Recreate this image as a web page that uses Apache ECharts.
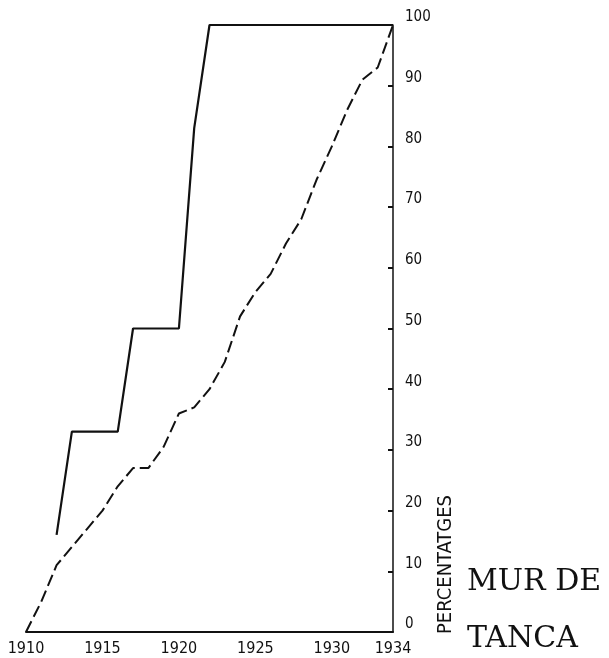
<!DOCTYPE html>
<html>
<head>
<meta charset="utf-8">
<script src="https://cdn.jsdelivr.net/npm/echarts@6/dist/echarts.min.js"></script>
<style>
	html, body { margin: 0; padding: 0; background: #fff; }
	#chart { width: 609px; height: 658px; }
</style>
</head>
<body>
<div id="chart"></div>
<script>
	// solid line (stepped)
	var solidYears = [1912, 1913, 1916, 1917, 1920, 1921, 1922, 1934];
	var solidValues = [16, 33, 33, 50, 50, 83, 100, 100];
	// dashed line
	var dashYears = [1910, 1911, 1912, 1913, 1914, 1915, 1916, 1917, 1918, 1919, 1920, 1921, 1922, 1923, 1924, 1925, 1926, 1927, 1928, 1929, 1930, 1931, 1932, 1933, 1934];
	var dashValues = [0, 5, 11, 14, 17, 20, 24, 27, 27, 30.5, 36, 37, 40, 44.5, 52, 56, 59, 64, 68, 74.5, 80, 86, 91, 93, 100];

	function pairs(xs, ys) {
		return xs.map(function(x, i) { return [x, ys[i]]; });
	}

	var chart = echarts.init(document.getElementById("chart"));
	var narrow = "'Liberation Sans Narrow', 'DejaVu Sans Condensed', sans-serif";

	chart.setOption({
		backgroundColor: "#fff",
		animation: false,
		grid: { left: 26, right: 216, top: 25, bottom: 26 },
		xAxis: {
			type: "value",
			min: 1910,
			max: 1934,
			interval: 5,
			axisLine: { lineStyle: { color: "#111", width: 2 } },
			axisTick: { show: false },
			splitLine: { show: false },
			axisLabel: {
				margin: 9,
				showMaxLabel: true,
				fontFamily: narrow,
				fontSize: 16,
				color: "#111",
				formatter: function(v) { return String(v); }
			}
		},
		yAxis: {
			type: "value",
			position: "right",
			min: 0,
			max: 100,
			interval: 10,
			axisLine: { show: true, lineStyle: { color: "#111", width: 1.5 } },
			axisTick: { show: true, inside: true, length: 5, lineStyle: { color: "#111", width: 2 } },
			splitLine: { show: false },
			axisLabel: {
				margin: 12,
				verticalAlign: "bottom",
				fontFamily: narrow,
				fontSize: 15,
				color: "#111"
			}
		},
		series: [
			{
				type: "line",
				data: pairs(solidYears, solidValues),
				symbol: "none",
				clip: false,
				lineStyle: { color: "#111", width: 2.2 }
			},
			{
				type: "line",
				data: pairs(dashYears, dashValues),
				symbol: "none",
				clip: false,
				lineStyle: { color: "#111", width: 2, type: [12, 5] }
			}
		],
		graphic: [
			{
				type: "text",
				x: 436,
				y: 634,
				rotation: Math.PI / 2,
				style: { text: "PERCENTATGES", font: "20px " + narrow, fill: "#111", textVerticalAlign: "top" }
			},
			{
				type: "text",
				left: 467,
				top: 567,
				style: { text: "MUR DE", font: "30px 'DejaVu Serif'", fill: "#111" }
			},
			{
				type: "text",
				left: 467,
				top: 624,
				style: { text: "TANCA", font: "30px 'DejaVu Serif'", fill: "#111" }
			}
		]
	});
</script>
</body>
</html>
